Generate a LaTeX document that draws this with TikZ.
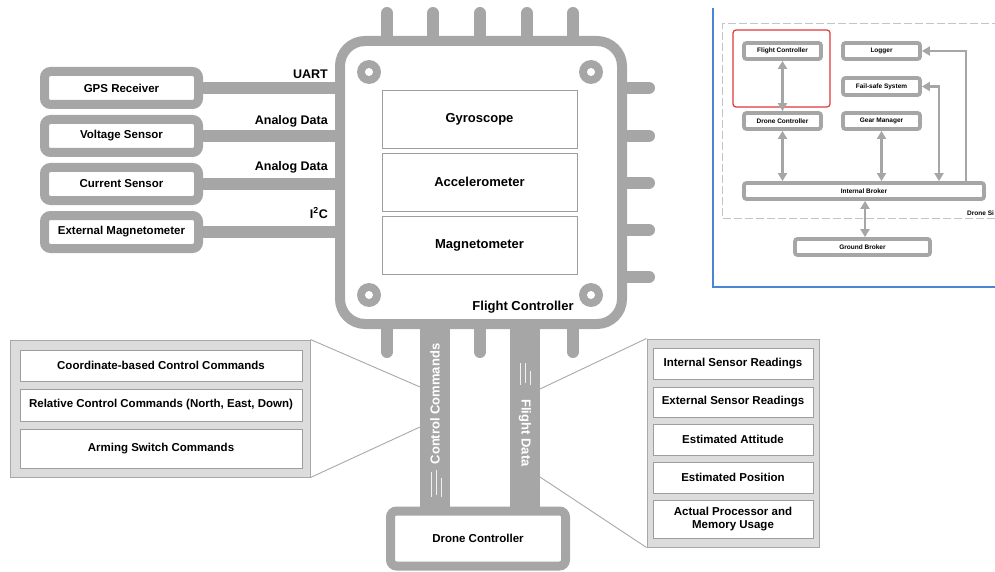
\documentclass[tikz,border=0pt]{standalone}
\usepackage{fontspec}
\setmainfont{Liberation Sans}
\usetikzlibrary{arrows.meta}

\definecolor{chipgray}{HTML}{A6A6A6}
\definecolor{boxline}{HTML}{9E9E9E}
\definecolor{panelfill}{HTML}{DCDCDC}
\definecolor{panelline}{HTML}{A8A8A8}
\definecolor{framblue}{HTML}{4A86D6}
\definecolor{selred}{HTML}{E0383A}
\definecolor{dashgray}{HTML}{C4C4C4}

\newcommand{\fsz}[1]{\fontsize{#1}{1.2\dimexpr#1pt\relax}\selectfont\bfseries}

\begin{document}
\begin{tikzpicture}[x=1pt,y=-1pt,
  pin/.style={draw=chipgray, line width=12pt, line cap=round},
  chipbox/.style={draw=chipgray, line width=10pt, fill=white, rounded corners=25pt,
    minimum width=282pt, minimum height=283pt, inner sep=0pt},
  sensor/.style={draw=chipgray, line width=9pt, fill=white, rounded corners=6pt,
    minimum width=154pt, minimum height=33pt, inner sep=0pt, font=\fsz{11.5}},
  wire/.style={draw=chipgray, line width=12pt},
  buslabel/.style={anchor=east, inner sep=0pt, font=\fsz{12.5}},
  unit/.style={draw=boxline, line width=0.8pt, fill=white,
    minimum width=195pt, minimum height=58pt, inner sep=0pt, font=\fsz{13}},
  panel/.style={draw=panelline, line width=1pt, fill=panelfill, inner sep=0pt},
  item/.style={draw=boxline, line width=0.8pt, fill=white, inner sep=0pt,
    align=center, font=\fsz{11.5}},
  callout/.style={draw=panelline, line width=0.9pt},
  busbar/.style={draw=chipgray, line width=30pt},
  bustext/.style={text=white, inner sep=0pt, font=\fsz{13}},
  tick/.style={draw=white, line width=0.7pt, opacity=0.85},
  mini/.style={draw=chipgray, line width=3.8pt, fill=white, rounded corners=2.5pt,
    minimum width=77pt, minimum height=16pt, inner sep=0pt, font=\fsz{6.5}},
  minilink/.style={draw=chipgray, line width=2.6pt,
    arrows={Triangle[length=8pt,width=9pt]-Triangle[length=8pt,width=9pt]}},
]
\useasboundingbox (0,0) rectangle (995,572);
\clip (0,0) rectangle (995,572);

% ---------- flight controller chip ----------
\foreach \px in {387,433,480,527,573} \draw[pin] (\px,13) -- (\px,41);
\foreach \py in {88,136,183,230,277} \draw[pin] (622,\py) -- (649,\py);
\foreach \px in {387,480,573} \draw[pin] (\px,324) -- (\px,352);

\node[chipbox] (fc) at (481,182.5) {};

\foreach \cx/\cy in {369/72,591/72,369/295,591/295}{
  \fill[chipgray] (\cx,\cy) circle[radius=12pt];
  \fill[white] (\cx,\cy) circle[radius=4pt];
}

\node[unit] (gyro) at (479.5,119) {Gyroscope};
\node[unit] (accel) at (479.5,182) {Accelerometer};
\node[unit] (magn) at (479.5,245) {Magnetometer};
\node[anchor=center, inner sep=0pt, font=\fsz{13}] (fclabel) at (523,307) {Flight Controller};

% ---------- external sensors ----------
\node[sensor] (gps) at (121.5,88) {GPS Receiver};
\node[sensor] (volt) at (121.5,136) {Voltage Sensor};
\node[sensor] (curr) at (121.5,184) {Current Sensor};
\node[sensor] (extmag) at (121.5,232) {External Magnetometer};

\foreach \s in {gps,volt,curr,extmag}
  \draw[wire] (\s.east) -- (\s.east -| fc.west);

\node[buslabel] (luart) at (328,74) {UART};
\node[buslabel] (lvolt) at (328,121) {Analog Data};
\node[buslabel] (lcurr) at (328,167) {Analog Data};
\node[buslabel] (li2c) at (328,213) {I\textsuperscript{2}C};

% ---------- drone controller and data buses ----------
\node[sensor, minimum width=175pt, minimum height=55pt] (dc) at (478,538.5) {Drone Controller};

\draw[busbar] ([xshift=-46pt]fc.south) -- ([xshift=-46pt]fc.south |- dc.north);
\draw[busbar] ([xshift=44pt]fc.south) -- ([xshift=44pt]fc.south |- dc.north);

\node[bustext, rotate=90] (cclabel) at (435,404) {Control Commands};
\node[bustext, rotate=-90] (fdlabel) at (525,433) {Flight Data};

\draw[tick] (431,472) -- (431,497);
\draw[tick] (436,470) -- (436,495);
\draw[tick] (441,478) -- (441,497);
\draw[tick] (520,363) -- (520,385);
\draw[tick] (525,363) -- (525,383);
\draw[tick] (530,371) -- (530,385);

% ---------- control command panel ----------
\node[panel, minimum width=300pt, minimum height=137pt] (lp) at (160,408.5) {};
\node[item, minimum width=282pt, minimum height=31pt] (cmd1) at (161,365.5) {Coordinate-based Control Commands};
\node[item, minimum width=282pt, minimum height=32pt] (cmd2) at (161,405) {Relative Control Commands (North, East, Down)};
\node[item, minimum width=282pt, minimum height=39pt] (cmd3) at (161,448.5) {Arming Switch Commands};

\coordinate (ccTop) at (420,387);
\coordinate (ccBot) at (420,427);
\draw[callout] (lp.north east) -- (ccTop);
\draw[callout] (lp.south east) -- (ccBot);

% ---------- flight data panel ----------
\node[panel, minimum width=172pt, minimum height=208pt] (rp) at (733,443) {};
\node[item, minimum width=160pt, minimum height=31pt] (fd1) at (733,363.5) {Internal Sensor Readings};
\node[item, minimum width=160pt, minimum height=30pt] (fd2) at (733,402) {External Sensor Readings};
\node[item, minimum width=160pt, minimum height=31pt] (fd3) at (733,439.5) {Estimated Attitude};
\node[item, minimum width=160pt, minimum height=31pt] (fd4) at (733,477.5) {Estimated Position};
\node[item, minimum width=160pt, minimum height=38pt] (fd5) at (733,519) {Actual Processor and\\Memory Usage};

\coordinate (fdTop) at (540,389);
\coordinate (fdBot) at (540,477);
\draw[callout] (rp.north west) -- (fdTop);
\draw[callout] (rp.south west) -- (fdBot);

% ---------- system overview ----------
\draw[framblue, line width=2pt] (713,8) -- (713,287) -- (1000,287);
\draw[dashgray, line width=1pt, dash pattern=on 8pt off 3pt]
  (1000,24) -- (722,24) -- (722,218) -- (1000,218);
\node[anchor=west, inner sep=0pt, font=\fsz{6.5}] (sidelabel) at (967,213) {Drone Si};

\draw[selred, line width=1.2pt, rounded corners=3pt] (733,30) rectangle (830,107);

\node[mini] (ifc) at (782.5,51) {Flight Controller};
\node[mini] (ilog) at (881.5,51) {Logger};
\node[mini, minimum height=17pt] (ifs) at (881.5,86.5) {Fail-safe System};
\node[mini] (idc) at (782.5,121) {Drone Controller};
\node[mini] (igm) at (881.5,121) {Gear Manager};
\node[mini, minimum width=240pt] (iib) at (864,191) {Internal Broker};
\node[mini, minimum width=135pt] (igb) at (862.5,247) {Ground Broker};

\draw[minilink] (ifc.south) -- (idc.north);
\draw[minilink] (idc.south) -- (idc.south |- iib.north);
\draw[minilink] (igm.south) -- (igm.south |- iib.north);
\draw[minilink] ([xshift=1pt]iib.south) -- ([xshift=1pt]iib.south |- igb.north);
\draw[minilink] (ifs.east) -| ([xshift=75pt]iib.north);
\draw[minilink, arrows={Triangle[length=8pt,width=9pt]-}] (ilog.east) -| ([xshift=102pt]iib.north);

\end{tikzpicture}
\end{document}
